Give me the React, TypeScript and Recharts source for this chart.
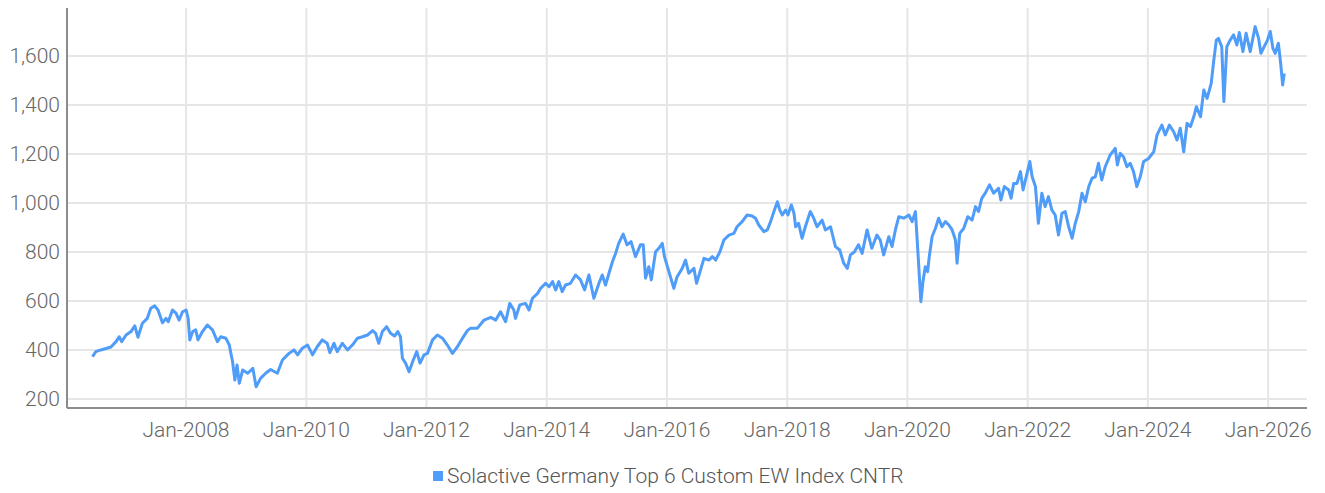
import React from "react";
import { CartesianGrid, Line, LineChart, XAxis, YAxis } from "recharts";

const seriesName = "Solactive Germany Top 6 Custom EW Index CNTR";
const lineColor = "#4f9cf9";

// index levels, roughly every 2-4 weeks plus the big swings
const dates = [
  "2006-06-12", "2006-07-02", "2006-08-02", "2006-10-02", "2006-11-02", "2006-11-21", "2006-12-06",
  "2007-01-02", "2007-02-01", "2007-02-24", "2007-03-15", "2007-04-11", "2007-05-11", "2007-06-01",
  "2007-06-25", "2007-07-15", "2007-08-11", "2007-09-01", "2007-09-15", "2007-10-11", "2007-11-01",
  "2007-11-20", "2007-12-11", "2008-01-02", "2008-01-14", "2008-01-24", "2008-02-11", "2008-02-29",
  "2008-03-14", "2008-04-10", "2008-05-10", "2008-06-10", "2008-07-10", "2008-07-30", "2008-08-30",
  "2008-09-20", "2008-10-10", "2008-10-24", "2008-11-06", "2008-11-20", "2008-12-10", "2009-01-10",
  "2009-02-10", "2009-03-02", "2009-03-29", "2009-04-29", "2009-05-29", "2009-07-09", "2009-08-09",
  "2009-09-18", "2009-10-18", "2009-11-09", "2009-12-08", "2010-01-08", "2010-02-08", "2010-03-08",
  "2010-04-08", "2010-05-08", "2010-05-24", "2010-06-18", "2010-07-08", "2010-08-08", "2010-09-08",
  "2010-10-08", "2010-11-08", "2010-12-08", "2011-01-08", "2011-02-08", "2011-02-26", "2011-03-17",
  "2011-04-08", "2011-05-04", "2011-05-28", "2011-06-21", "2011-07-11", "2011-07-27", "2011-08-08",
  "2011-08-27", "2011-09-17", "2011-10-13", "2011-11-03", "2011-11-23", "2011-12-17", "2012-01-07",
  "2012-02-07", "2012-03-07", "2012-04-07", "2012-05-07", "2012-06-07", "2012-07-07", "2012-08-07",
  "2012-09-07", "2012-09-26", "2012-11-06", "2012-12-16", "2013-01-26", "2013-02-25", "2013-03-26",
  "2013-04-26", "2013-05-21", "2013-06-15", "2013-06-25", "2013-07-21", "2013-08-25", "2013-09-15",
  "2013-10-06", "2013-11-06", "2013-11-25", "2013-12-25", "2014-01-15", "2014-02-05", "2014-02-24",
  "2014-03-15", "2014-04-05", "2014-04-25", "2014-05-25", "2014-06-25", "2014-07-25", "2014-08-19",
  "2014-09-14", "2014-10-14", "2014-11-14", "2014-12-04", "2014-12-24", "2015-01-14", "2015-02-04",
  "2015-02-23", "2015-03-14", "2015-04-10", "2015-05-04", "2015-05-28", "2015-06-24", "2015-07-24",
  "2015-08-10", "2015-08-24", "2015-09-13", "2015-09-28", "2015-10-24", "2015-11-13", "2015-12-04",
  "2015-12-17", "2016-01-13", "2016-02-12", "2016-03-03", "2016-04-03", "2016-04-23", "2016-05-13",
  "2016-06-13", "2016-06-29", "2016-07-23", "2016-08-13", "2016-09-13", "2016-10-03", "2016-10-23",
  "2016-11-18", "2016-12-12", "2017-01-12", "2017-02-11", "2017-03-02", "2017-04-02", "2017-05-02",
  "2017-06-02", "2017-06-22", "2017-07-12", "2017-08-12", "2017-09-02", "2017-09-22", "2017-10-12",
  "2017-11-02", "2017-11-17", "2017-12-02", "2017-12-22", "2018-01-05", "2018-01-26", "2018-02-11",
  "2018-02-21", "2018-03-11", "2018-04-01", "2018-04-21", "2018-05-21", "2018-06-11", "2018-07-01",
  "2018-08-01", "2018-08-21", "2018-09-21", "2018-10-21", "2018-11-16", "2018-12-10", "2019-01-01",
  "2019-01-20", "2019-02-14", "2019-03-10", "2019-04-01", "2019-05-01", "2019-05-30", "2019-06-30",
  "2019-07-20", "2019-08-10", "2019-09-10", "2019-09-30", "2019-10-20", "2019-11-10", "2019-12-10",
  "2020-01-10", "2020-01-30", "2020-02-19", "2020-03-03", "2020-03-15", "2020-03-23", "2020-04-06",
  "2020-04-19", "2020-05-03", "2020-05-13", "2020-05-30", "2020-06-19", "2020-07-09", "2020-07-29",
  "2020-08-19", "2020-09-09", "2020-09-29", "2020-10-19", "2020-10-29", "2020-11-14", "2020-12-08",
  "2021-01-02", "2021-01-28", "2021-02-18", "2021-03-08", "2021-03-28", "2021-04-18", "2021-05-14",
  "2021-06-08", "2021-07-08", "2021-07-22", "2021-08-12", "2021-09-08", "2021-09-22", "2021-10-08",
  "2021-10-28", "2021-11-18", "2021-12-04", "2021-12-28", "2022-01-14", "2022-01-28", "2022-02-17",
  "2022-03-07", "2022-03-28", "2022-04-17", "2022-05-07", "2022-05-28", "2022-06-17", "2022-07-07",
  "2022-07-28", "2022-08-17", "2022-09-07", "2022-09-28", "2022-10-17", "2022-11-07", "2022-11-27",
  "2022-12-17", "2023-01-07", "2023-01-27", "2023-02-16", "2023-03-07", "2023-03-27", "2023-04-17",
  "2023-05-17", "2023-06-17", "2023-06-30", "2023-07-17", "2023-08-06", "2023-08-27", "2023-09-16",
  "2023-10-06", "2023-10-26", "2023-11-16", "2023-12-06", "2024-01-06", "2024-02-06", "2024-02-26",
  "2024-03-26", "2024-04-16", "2024-05-11", "2024-06-06", "2024-06-26", "2024-07-16", "2024-08-06",
  "2024-08-26", "2024-09-16", "2024-10-06", "2024-10-22", "2024-11-16", "2024-12-06", "2024-12-26",
  "2025-01-20", "2025-02-05", "2025-02-20", "2025-03-05", "2025-03-25", "2025-04-07", "2025-04-25",
  "2025-05-15", "2025-06-05", "2025-06-25", "2025-07-10", "2025-08-01", "2025-08-20", "2025-09-14",
  "2025-10-14", "2025-11-04", "2025-11-18", "2025-12-08", "2025-12-28", "2026-01-14", "2026-01-30",
  "2026-02-13", "2026-03-04", "2026-03-18", "2026-03-30", "2026-04-09",
];

const values = [
  373, 393, 400, 412, 434, 454, 434,
  461, 475, 498, 452, 509, 529, 570,
  580, 563, 511, 529, 515, 563, 550,
  522, 556, 563, 529, 441, 475, 482,
  441, 475, 502, 482, 434, 454, 448,
  420, 352, 277, 339, 264, 318, 305,
  325, 250, 284, 305, 320, 305, 359,
  386, 400, 380, 407, 420, 380, 413,
  441, 427, 389, 427, 393, 427, 400,
  420, 448, 454, 461, 479, 468, 427,
  475, 495, 468, 457, 475, 454, 366,
  346, 311, 359, 393, 346, 380, 386,
  441, 461, 448, 420, 386, 413, 448,
  480, 489, 489, 522, 533, 522, 556,
  515, 590, 563, 529, 584, 590, 563,
  611, 631, 652, 672, 658, 679, 645,
  679, 638, 665, 672, 706, 686, 645,
  706, 611, 672, 706, 665, 713, 760,
  794, 835, 873, 829, 842, 781, 829,
  829, 693, 740, 686, 801, 815, 835,
  781, 720, 652, 699, 733, 767, 713,
  733, 672, 726, 774, 767, 781, 767,
  801, 849, 869, 876, 903, 924, 951,
  947, 938, 910, 883, 890, 924, 965,
  1005, 971, 951, 971, 951, 992, 958,
  903, 917, 856, 903, 965, 938, 903,
  930, 890, 903, 822, 808, 754, 733,
  788, 801, 829, 794, 890, 815, 869,
  849, 788, 862, 822, 890, 944, 938,
  951, 924, 965, 822, 686, 597, 686,
  740, 720, 781, 862, 896, 938, 903,
  924, 910, 890, 849, 754, 876, 896,
  944, 930, 985, 965, 1019, 1040, 1074,
  1040, 1060, 1012, 1067, 1053, 1019, 1080,
  1080, 1128, 1053, 1121, 1169, 1107, 1067,
  917, 1040, 985, 1026, 971, 951, 869,
  958, 965, 903, 856, 917, 965, 1040,
  1005, 1067, 1101, 1107, 1162, 1094, 1148,
  1196, 1223, 1155, 1203, 1189, 1148, 1162,
  1128, 1067, 1107, 1169, 1182, 1209, 1278,
  1318, 1278, 1318, 1291, 1257, 1305, 1209,
  1325, 1312, 1352, 1393, 1352, 1461, 1427,
  1488, 1584, 1665, 1672, 1638, 1414, 1638,
  1665, 1686, 1645, 1696, 1618, 1693, 1618,
  1720, 1672, 1611, 1638, 1665, 1700, 1631,
  1611, 1652, 1570, 1482, 1529,
];

const tickYears = [2008, 2010, 2012, 2014, 2016, 2018, 2020, 2022, 2024, 2026];
const yTicks = [200, 400, 600, 800, 1000, 1200, 1400, 1600];

const data = dates.map((d, i) => ({ t: Date.parse(d), value: values[i] }));
const xTicks = tickYears.map((y) => Date.UTC(y, 0, 1));
const xDomain = [Date.UTC(2006, 0, 8), Date.UTC(2026, 7, 25)];
const yDomain = [163, 1796];

const font = "Roboto, 'Noto Sans', sans-serif";
const tickStyle = { fill: "#666", fontSize: 21, fontWeight: 300, fontFamily: font };

// grid only on the tick values (no frame around the plot)
function gridRows({ offset }: any) {
  return yTicks.map(
    (v) => offset.top + offset.height * (1 - (v - yDomain[0]) / (yDomain[1] - yDomain[0])),
  );
}

function gridCols({ offset }: any) {
  return xTicks.map(
    (v) => offset.left + (offset.width * (v - xDomain[0])) / (xDomain[1] - xDomain[0]),
  );
}

export default function App() {
  return (
    <div style={{ position: "absolute", left: 0, top: 0, width: 1325, height: 493, background: "#fff" }}>
      <LineChart width={1325} height={493} data={data} margin={{ top: 8, right: 18, bottom: 40, left: 0 }}>
        <CartesianGrid
          stroke="#e6e6e6"
          strokeWidth={2}
          horizontalCoordinatesGenerator={gridRows}
          verticalCoordinatesGenerator={gridCols}
        />
        <XAxis
          dataKey="t"
          type="number"
          scale="time"
          domain={xDomain}
          ticks={xTicks}
          tickFormatter={(v) => `Jan-${new Date(v).getUTCFullYear()}`}
          tickLine={false}
          tickSize={0}
          tickMargin={14}
          axisLine={{ stroke: "#8c8c8c", strokeWidth: 2 }}
          tick={tickStyle}
          height={45}
          interval={0}
        />
        <YAxis
          type="number"
          domain={yDomain}
          ticks={yTicks}
          tickFormatter={(v) => v.toLocaleString("en-US")}
          tickLine={false}
          tickSize={0}
          tickMargin={7}
          axisLine={{ stroke: "#8c8c8c", strokeWidth: 2 }}
          tick={tickStyle}
          width={67}
          allowDataOverflow
        />
        <Line
          type="linear"
          dataKey="value"
          stroke={lineColor}
          strokeWidth={3}
          dot={false}
          strokeLinejoin="round"
          isAnimationActive={false}
        />
      </LineChart>
      <div
        style={{
          position: "absolute",
          left: 433,
          top: 464,
          display: "flex",
          alignItems: "center",
          fontFamily: font,
          fontWeight: 300,
          fontSize: 21,
          color: "#555",
          whiteSpace: "nowrap",
        }}
      >
        <span style={{ display: "inline-block", width: 10, height: 10, background: lineColor, marginRight: 4 }} />
        {seriesName}
      </div>
    </div>
  );
}
